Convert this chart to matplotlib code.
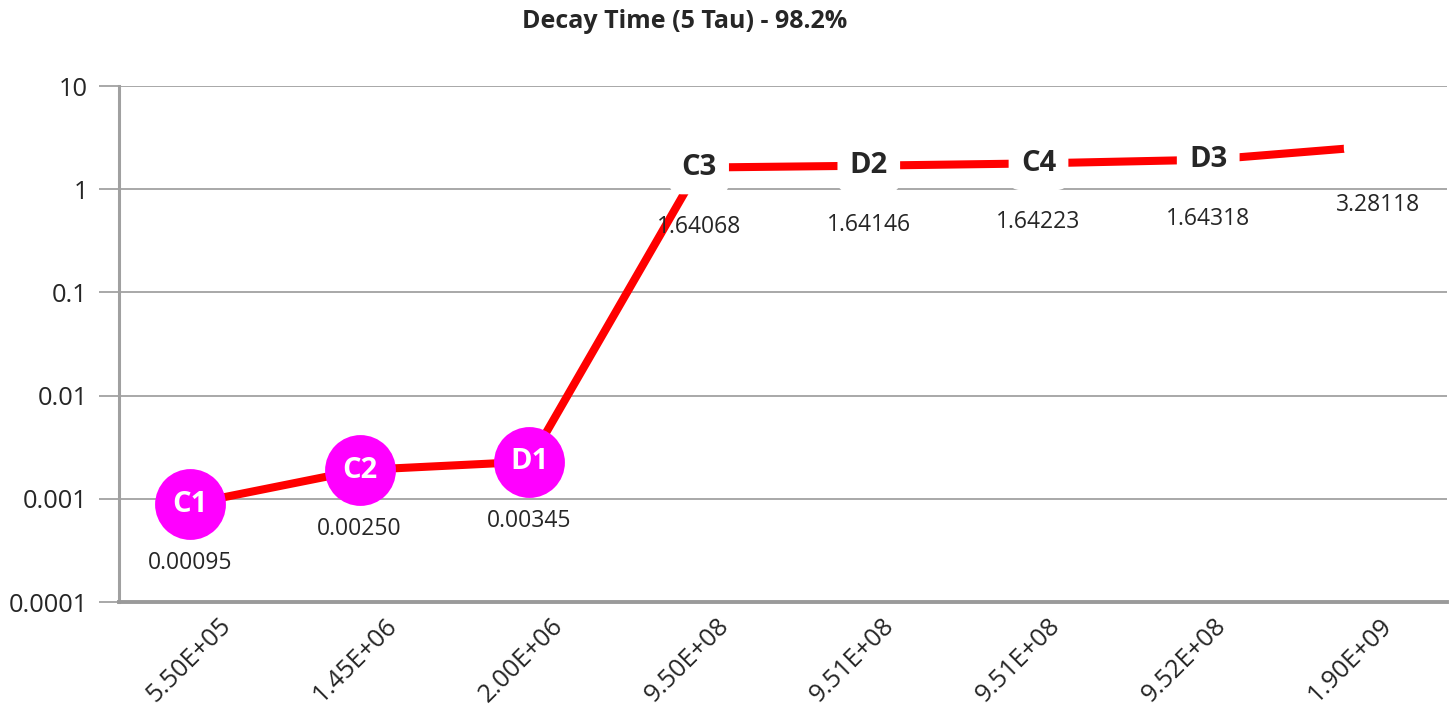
import numpy as np
import matplotlib
matplotlib.use("Agg")
import matplotlib.pyplot as plt

# data
categories = ["5.50E+05", "1.45E+06", "2.00E+06", "9.50E+08",
              "9.51E+08", "9.51E+08", "9.52E+08", "1.90E+09"]
decay_time = [0.00089, 0.0019, 0.00229, 1.62, 1.69, 1.78, 1.93, 2.62]
point_names = ["C1", "C2", "D1", "C3", "D2", "C4", "D3", ""]
value_labels = ["0.00095", "0.00250", "0.00345", "1.64068",
                "1.64146", "1.64223", "1.64318", "3.28118"]
highlighted = [True, True, True, False, False, False, False, False]

plt.rcParams["font.family"] = ["Open Sans", "DejaVu Sans"]
TXT = "#262626"
GRID = "#a8a8a8"

fig = plt.figure(figsize=(14.52, 7.11), dpi=100)
ax = fig.add_axes([119 / 1452, 109 / 711, 1328 / 1452, 516 / 711])

x = np.arange(len(categories))
ax.plot(x, decay_time, color="#ff0000", lw=5.8, solid_capstyle="butt", zorder=3)

for xi, yi, name, val, hi in zip(x, decay_time, point_names, value_labels, highlighted):
    if hi:
        ax.plot(xi, yi, "o", ms=51, color="#ff00ff", mec="none", zorder=4)
        ax.text(xi, yi, name, color="white", fontsize=21, fontweight="bold",
                ha="center", va="center", zorder=5)
    elif name:
        ax.text(xi, yi, name, color=TXT, fontsize=21, fontweight="bold",
                ha="center", va="center", zorder=5,
                bbox=dict(boxstyle="round,pad=0.42", fc="white", ec="none"))
    else:
        ax.plot(xi, yi, "o", ms=50, color="white", mec="none", zorder=4)
    ax.annotate(val, (xi, yi), xytext=(0, -42.5), textcoords="offset points",
                ha="center", va="center", fontsize=16.5, color=TXT, zorder=6)

ax.set_yscale("log")
ax.set_ylim(1e-4, 10)
ax.set_yticks([1e-4, 1e-3, 1e-2, 1e-1, 1, 10])
ax.set_yticklabels(["0.0001", "0.001", "0.01", "0.1", "1", "10"])
ax.yaxis.set_minor_locator(matplotlib.ticker.NullLocator())
ax.set_xlim(-0.418, 7.407)

# category ticks sit on a slightly tighter pitch than the points
ax.set_xticks(x * 0.978 - 0.006)
ax.set_xticklabels(categories, rotation=45, ha="center")

ax.grid(axis="y", color=GRID, lw=1.4, zorder=0)
ax.set_axisbelow(True)
for s in ["top", "right"]:
    ax.spines[s].set_visible(False)
ax.spines["left"].set_color("#a0a0a0")
ax.spines["left"].set_linewidth(2.2)
ax.spines["bottom"].set_color("#9a9a9a")
ax.spines["bottom"].set_linewidth(2.8)
ax.tick_params(axis="y", length=14.5, width=1.4, color=GRID, pad=8,
               labelsize=18.3, labelcolor=TXT)
ax.tick_params(axis="x", length=0, pad=8, labelsize=18.3, labelcolor=TXT)

fig.text(684.5 / 1452, 1 - 22 / 711, "Decay Time (5 Tau) - 98.2%",
         ha="center", va="center", fontsize=18, fontweight="bold", color=TXT)

fig.savefig("out.png", dpi=100)
